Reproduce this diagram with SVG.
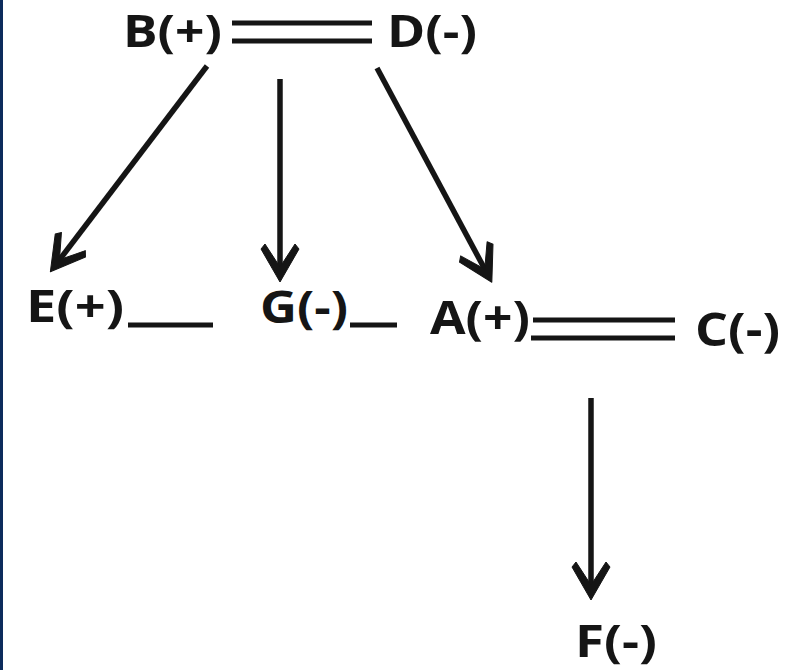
<svg xmlns="http://www.w3.org/2000/svg" width="787" height="670" viewBox="0 0 787 670">
  <style>
    .lbl { font-family: "Open Sans", "Liberation Sans", sans-serif; font-weight: 700; fill: #151515; }
    .ln { stroke: #151515; stroke-width: 5; fill: none; }
    .arr { stroke: #151515; stroke-width: 5.5; fill: none; marker-end: url(#head); }
  </style>
  <defs>
    <marker id="head" markerUnits="userSpaceOnUse" viewBox="0 0 44 40" markerWidth="44" markerHeight="40" refX="35" refY="20" orient="auto">
      <path d="M3,5 L8,1 L41,20 L8,39 L3,35 L26,20 z" fill="#151515" stroke="#151515" stroke-width="1" stroke-linejoin="round"/>
    </marker>
  </defs>
  <rect x="0" y="0" width="787" height="670" fill="#ffffff"/>
  <rect x="0" y="0" width="3" height="670" fill="#0c2b5c"/>

  <g id="B"><text class="lbl" x="123" y="47" font-size="45" textLength="99" lengthAdjust="spacingAndGlyphs">B(+)</text></g>
  <g id="D"><text class="lbl" x="387" y="47" font-size="45" textLength="90" lengthAdjust="spacingAndGlyphs">D(-)</text></g>
  <g id="E"><text class="lbl" x="26" y="322" font-size="45" textLength="98" lengthAdjust="spacingAndGlyphs">E(+)</text></g>
  <g id="G"><text class="lbl" x="260" y="323" font-size="45" textLength="88" lengthAdjust="spacingAndGlyphs">G(-)</text></g>
  <g id="A"><text class="lbl" x="430" y="334" font-size="46" textLength="100" lengthAdjust="spacingAndGlyphs">A(+)</text></g>
  <g id="C"><text class="lbl" x="695" y="346" font-size="46" textLength="85" lengthAdjust="spacingAndGlyphs">C(-)</text></g>
  <g id="F"><text class="lbl" x="575" y="657" font-size="45" textLength="82" lengthAdjust="spacingAndGlyphs">F(-)</text></g>

  <g id="connectors">
    <line class="ln" x1="232" y1="23" x2="372" y2="23"/>
    <line class="ln" x1="232" y1="41" x2="372" y2="41"/>
    <line class="ln" x1="533" y1="320" x2="675" y2="320"/>
    <line class="ln" x1="531" y1="338" x2="675" y2="338"/>
    <line class="ln" x1="128" y1="325" x2="213" y2="325"/>
    <line class="ln" x1="350" y1="325" x2="397" y2="325"/>
    <line class="arr" x1="207" y1="66" x2="54" y2="267"/>
    <line class="arr" x1="280" y1="79" x2="280" y2="276"/>
    <line class="arr" x1="377" y1="68" x2="489" y2="277"/>
    <line class="arr" x1="591" y1="398" x2="591" y2="594"/>
  </g>
</svg>
